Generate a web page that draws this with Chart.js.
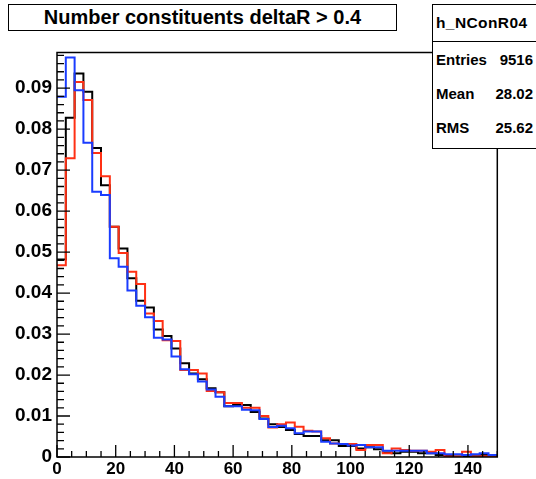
<!DOCTYPE html>
<html>
<head>
<meta charset="utf-8">
<title>Number constituents deltaR &gt; 0.4</title>
<script src="https://cdn.jsdelivr.net/npm/chart.js@4/dist/chart.umd.min.js"></script>
<style>
  html, body { margin: 0; padding: 0; background: #fff; }
  #wrap { position: relative; width: 536px; height: 479px; overflow: hidden;
          font-family: "Liberation Sans", Arial, Helvetica, sans-serif; }
  #wrap canvas { position: absolute; left: 0; top: 0; }
  .box { position: absolute; background: #fff; border: 1px solid #000; box-sizing: border-box;
         color: #000; font-weight: bold; white-space: nowrap; }
  #title { left: 8px; top: 4px; width: 389px; height: 27px; font-size: 20px;
           line-height: 25px; text-align: center; }
  #stats { left: 432px; top: 4px; width: 110px; height: 145px; font-size: 15px; }
  #stats .head { position: absolute; left: 0; top: 0; width: 100%; height: 37px;
                 border-bottom: 1px solid #000; box-sizing: border-box;
                 font-size: 15.5px; line-height: 36px; padding-left: 3px; letter-spacing: 0.4px; }
  #stats .row { position: absolute; left: 3px; width: 97px; height: 20px; line-height: 20px; }
  #stats .row .v { position: absolute; right: 0; top: 0; }
</style>
</head>
<body>
<div id="wrap">
  <canvas id="c" width="536" height="479"></canvas>
  <div id="title" class="box"></div>
  <div id="stats" class="box"><div class="head"></div></div>
</div>
<script>
// Bin edges of the histogram (3 units per bin, 0 .. 150)
const binEdges = [0, 3, 6, 9, 12, 15, 18, 21, 24, 27, 30, 33, 36, 39, 42, 45, 48, 51, 54, 57,
                  60, 63, 66, 69, 72, 75, 78, 81, 84, 87, 90, 93, 96, 99, 102, 105, 108, 111, 114, 117,
                  120, 123, 126, 129, 132, 135, 138, 141, 144, 147, 150];

// Normalised bin contents for the three samples
const nConA = [0.0482, 0.0828, 0.0936, 0.0891, 0.0754, 0.0663, 0.0562, 0.0509, 0.0436, 0.0381,
               0.0365, 0.0311, 0.0295, 0.0265, 0.0229, 0.0204, 0.0190, 0.0168, 0.0158, 0.0124,
               0.0127, 0.0127, 0.0110, 0.0094, 0.0080, 0.0073, 0.0066, 0.0056, 0.0051, 0.0051,
               0.0041, 0.0041, 0.0027, 0.0027, 0.0021, 0.0024, 0.0019, 0.0011, 0.0009, 0.0013,
               0.0013, 0.0009, 0.0009, 0.0005, 0.0005, 0.0001, 0.0002, 0.0002, 0.0005, 0.0001];
const nConB = [0.0468, 0.0729, 0.0915, 0.0871, 0.0742, 0.0685, 0.0562, 0.0498, 0.0452, 0.0422,
               0.0350, 0.0332, 0.0285, 0.0283, 0.0212, 0.0212, 0.0204, 0.0161, 0.0158, 0.0132,
               0.0132, 0.0120, 0.0120, 0.0100, 0.0072, 0.0080, 0.0084, 0.0074, 0.0064, 0.0062,
               0.0046, 0.0033, 0.0032, 0.0032, 0.0017, 0.0029, 0.0029, 0.0009, 0.0021, 0.0017,
               0.0015, 0.0015, 0.0013, 0.0017, 0.0001, 0.0001, 0.0013, 0.0001, 0.0002, 0.0001];
const nConC = [0.0879, 0.0975, 0.0895, 0.0767, 0.0647, 0.0639, 0.0485, 0.0464, 0.0406, 0.0369,
               0.0341, 0.0291, 0.0287, 0.0245, 0.0214, 0.0202, 0.0184, 0.0165, 0.0147, 0.0124,
               0.0124, 0.0115, 0.0114, 0.0093, 0.0073, 0.0076, 0.0070, 0.0058, 0.0062, 0.0062,
               0.0037, 0.0033, 0.0032, 0.0028, 0.0029, 0.0024, 0.0024, 0.0015, 0.0015, 0.0015,
               0.0015, 0.0015, 0.0009, 0.0009, 0.0007, 0.0007, 0.0005, 0.0007, 0.0009, 0.0005];

// Axis tick values
const xTickValues = [0, 20, 40, 60, 80, 100, 120, 140];
const yTickValues = [0, 0.01, 0.02, 0.03, 0.04, 0.05, 0.06, 0.07, 0.08, 0.09];

// Texts
const titleText = 'Number constituents deltaR > 0.4';
const statsName = 'h_NConR04';
const statsLabels = ['Entries', 'Mean', 'RMS'];
const statsValues = ['9516', '28.02', '25.62'];

// ---- text boxes ----
document.getElementById('title').textContent = titleText;
const statsBox = document.getElementById('stats');
statsBox.querySelector('.head').textContent = statsName;
const rowTops = [45, 79, 113];
statsLabels.forEach((lab, i) => {
  const row = document.createElement('div');
  row.className = 'row';
  row.style.top = rowTops[i] + 'px';
  row.textContent = lab;
  const v = document.createElement('span');
  v.className = 'v';
  v.textContent = statsValues[i];
  row.appendChild(v);
  statsBox.appendChild(row);
});

// ---- histogram as stepped lines ----
function stepPoints(values) {
  const pts = values.map((v, i) => ({ x: binEdges[i], y: v }));
  pts.push({ x: binEdges[binEdges.length - 1], y: values[values.length - 1] });
  return pts;
}

const FONT = '"Liberation Sans", Arial, Helvetica, sans-serif';

// Frame with inward-pointing ticks
const frameTicks = {
  id: 'frameTicks',
  afterDatasetsDraw(chart) {
    const { ctx, chartArea: a, scales: { x, y } } = chart;
    ctx.save();
    ctx.strokeStyle = '#000';
    ctx.lineWidth = 1.5;
    ctx.strokeRect(a.left, a.top, a.right - a.left, a.bottom - a.top);
    ctx.lineWidth = 1.3;
    ctx.beginPath();
    // x axis: major every 20, minor every 5
    for (let i = 0; i * 5 <= x.max + 1e-9; i++) {
      const v = i * 5;
      const px = x.getPixelForValue(v);
      const len = (v % 20 === 0) ? 12 : 6;
      ctx.moveTo(px, a.bottom);
      ctx.lineTo(px, a.bottom - len);
    }
    // y axis: major every 0.01, minor every 0.002
    for (let i = 0; i * 0.002 <= y.max + 1e-9; i++) {
      const v = i * 0.002;
      const py = y.getPixelForValue(v);
      const len = (i % 5 === 0) ? 13 : 7;
      ctx.moveTo(a.left, py);
      ctx.lineTo(a.left + len, py);
    }
    ctx.stroke();
    ctx.restore();
  }
};

new Chart(document.getElementById('c'), {
  type: 'line',
  data: {
    datasets: [
      { label: 'C', data: stepPoints(nConC), borderColor: '#1a3cff' },
      { label: 'B', data: stepPoints(nConB), borderColor: '#ff3014' },
      { label: 'A', data: stepPoints(nConA), borderColor: '#000000' }
    ].map(d => Object.assign(d, {
      stepped: true, borderWidth: 2, pointRadius: 0, fill: false, tension: 0,
      borderJoinStyle: 'miter', borderCapStyle: 'butt'
    }))
  },
  options: {
    responsive: false,
    animation: false,
    events: [],
    layout: { padding: { left: 0, top: 52.5, right: 38.7, bottom: 0 } },
    plugins: { legend: { display: false }, tooltip: { enabled: false }, title: { display: false } },
    scales: {
      x: {
        type: 'linear', min: 0, max: 150,
        grid: { display: false, drawTicks: false }, border: { display: false },
        afterBuildTicks: s => { s.ticks = xTickValues.map(v => ({ value: v })); },
        ticks: {
          padding: 2, color: '#000', maxRotation: 0, autoSkip: false,
          font: { family: FONT, size: 17, weight: 'bold' },
          callback: v => String(v)
        },
        afterFit: s => { s.height = 22; }
      },
      y: {
        type: 'linear', min: 0, max: 0.0987,
        grid: { display: false, drawTicks: false }, border: { display: false },
        afterBuildTicks: s => { s.ticks = yTickValues.map(v => ({ value: v })); },
        ticks: {
          padding: 5, color: '#000', autoSkip: false,
          font: { family: FONT, size: 19, weight: 'bold' },
          callback: v => (v === 0 ? '0' : v.toFixed(2))
        },
        afterFit: s => { s.width = 57; }
      }
    }
  },
  plugins: [frameTicks]
});
</script>
</body>
</html>
